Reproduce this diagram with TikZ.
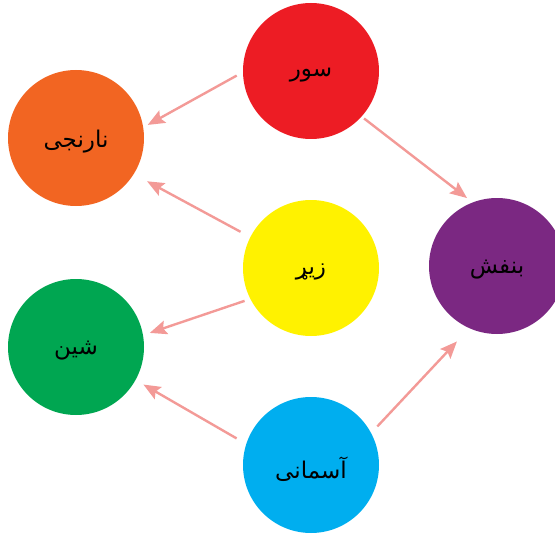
\documentclass[tikz,border=0pt]{standalone}
\usepackage{fontspec}
\usepackage{xcolor}
\usetikzlibrary{positioning,arrows.meta}
\newfontfamily\arabicfont[Script=Arabic]{DejaVu Sans}
\TeXXeTstate=1

\definecolor{surred}{HTML}{ED1C24}
\definecolor{narenjiorange}{HTML}{F26522}
\definecolor{zirYellow}{HTML}{FFF200}
\definecolor{shingreen}{HTML}{00A651}
\definecolor{asmaniblue}{HTML}{00AEEF}
\definecolor{banafshviolet}{HTML}{7B2882}
\definecolor{arrowpink}{HTML}{F39A97}

\begin{document}
\begin{tikzpicture}[
    x=1pt, y=1pt,
    disc/.style={circle, minimum size=136pt, inner sep=0pt},
    word/.style={font=\arabicfont\fontsize{23}{26}\selectfont, yshift=-4pt},
    arrow/.style={-{Stealth[length=17pt, width=14pt, inset=3pt]}, line width=2.4pt, draw=arrowpink}
]
\useasboundingbox (0,0) rectangle (555,-535);
\clip (0,0) rectangle (555,-535);

% Colour circles
\node[disc, fill=surred] (sur) at (311,-71) {};
\node[disc, fill=narenjiorange] (narenji) at (76,-138) {};
\node[disc, fill=zirYellow] (zir) at (311,-268) {};
\node[disc, fill=shingreen] (shin) at (76,-347) {};
\node[disc, fill=asmaniblue] (asmani) at (311,-465) {};
\node[disc, fill=banafshviolet] (banafsh) at (497,-266) {};

% Labels
\node[word] (surtext) at (sur) {\beginR سور\endR};
\node[word] (narenjitext) at (narenji) {\beginR نارنجی\endR};
\node[word] (zirtext) at (zir) {\beginR زیړ\endR};
\node[word] (shintext) at (shin) {\beginR شین\endR};
\node[word] (asmanitext) at (asmani) {\beginR آسمانی\endR};
\node[word] (banafshtext) at (banafsh) {\beginR بنفش\endR};

% Arrows
\draw[arrow, shorten <=7pt, shorten >=5pt] (sur.181) -- (narenji.9);
\draw[arrow, shorten <=3pt, shorten >=7pt] (sur.-42) -- (banafsh.111);
\draw[arrow, shorten <=11pt, shorten >=15pt] (zir.153) -- (narenji.-32);
\draw[arrow, shorten <=6pt, shorten >=7pt] (zir.207) -- (shin.10);
\draw[arrow, shorten <=11pt, shorten >=9pt] (asmani.162) -- (shin.-29);
\draw[arrow, shorten <=9pt, shorten >=18pt] (asmani.28) -- (banafsh.246);

\end{tikzpicture}
\end{document}
